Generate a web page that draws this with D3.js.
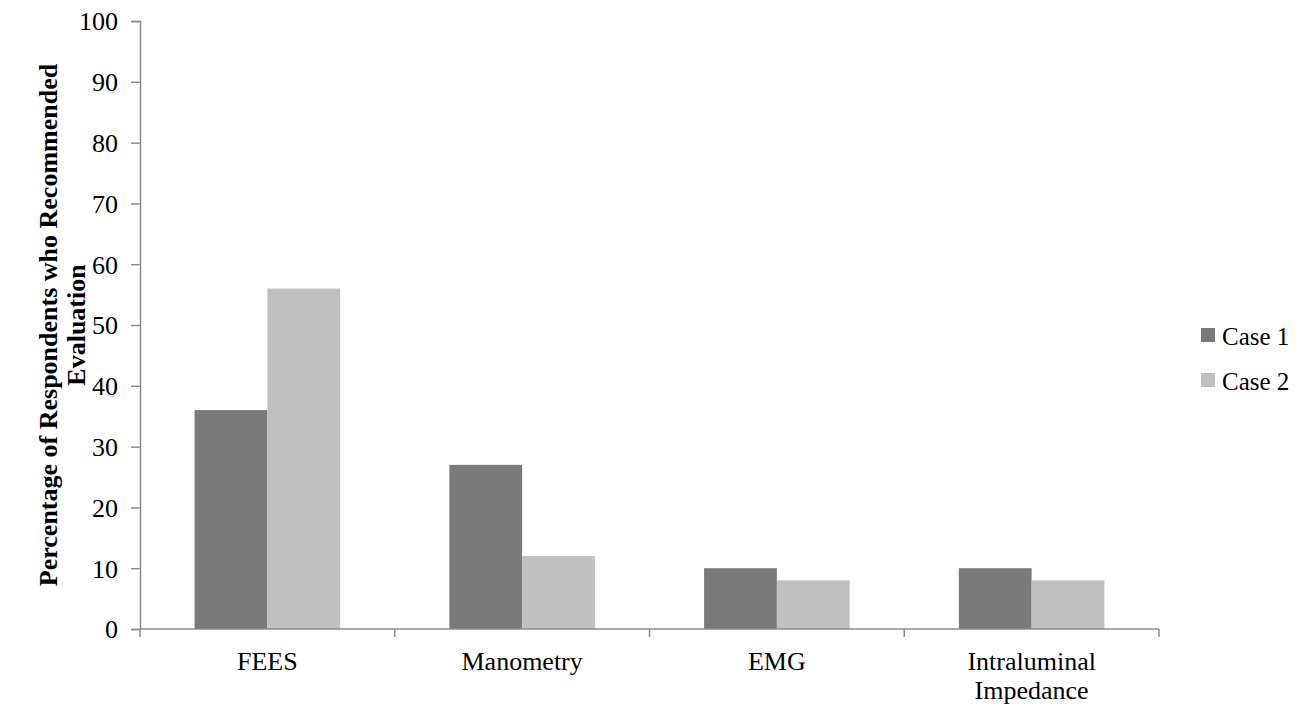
<!DOCTYPE html>
<html><head><meta charset="utf-8">
<script src="https://cdn.jsdelivr.net/npm/d3@7"></script>
<style>body{margin:0;background:#fff}svg{display:block}text{font-family:"Liberation Serif","Times New Roman",serif;fill:#000}</style>
</head><body>
<svg id="c" width="1310" height="709"></svg>
<script>
const categories = [["FEES"], ["Manometry"], ["EMG"], ["Intraluminal","Impedance"]];
const seriesNames = ["Case 1", "Case 2"];
const case1 = [36, 27, 10, 10];
const case2 = [56, 12, 8, 8];
const yTicks = [0,10,20,30,40,50,60,70,80,90,100];
const colors = ["#7a7a7a", "#c0c0c0"];

const svg = d3.select("#c");
const m = {left:140, right:1159, top:21, bottom:629};
const x = d3.scaleBand().domain(d3.range(categories.length)).range([m.left, m.right]).paddingInner(0).paddingOuter(0);
const x1 = d3.scaleBand().domain(d3.range(seriesNames.length)).range([0, x.bandwidth()]).paddingOuter(0.75).paddingInner(0);
const y = d3.scaleLinear().domain([0,100]).range([m.bottom, m.top]);
const series = [case1, case2];
const axisColor = "#8c8c8c";
const fs = "26px";

// bars
series.forEach((vals, si) => {
  svg.append("g").selectAll("rect").data(vals).join("rect")
    .attr("x", (d,i) => x(i) + x1(si))
    .attr("width", x1.bandwidth())
    .attr("y", d => y(d))
    .attr("height", d => y(0) - y(d))
    .attr("fill", colors[si]);
});

// y axis
const ya = svg.append("g").attr("transform", `translate(${m.left},0)`)
  .call(d3.axisLeft(y).tickValues(yTicks).tickSize(9).tickPadding(13));
ya.select(".domain").attr("stroke", axisColor).attr("stroke-width", 1.5);
ya.selectAll(".tick line").attr("stroke", axisColor).attr("stroke-width", 1.5);
ya.selectAll(".tick text").style("font-size",fs).attr("fill","#000").attr("dy","0.34em");

// x axis
const xa = svg.append("g").attr("transform", `translate(0,${m.bottom})`);
xa.append("line").attr("x1", m.left).attr("x2", m.right).attr("y1",0).attr("y2",0).attr("stroke", axisColor).attr("stroke-width",1.5);
const bounds = d3.range(categories.length+1).map(i => i < categories.length ? x(i) : m.right);
xa.selectAll("line.tk").data(bounds).join("line").attr("class","tk")
  .attr("x1", d=>d).attr("x2", d=>d).attr("y1",0).attr("y2",8).attr("stroke", axisColor).attr("stroke-width",1.5);
categories.forEach((lines, i) => {
  const t = xa.append("text").attr("text-anchor","middle").style("font-size",fs)
    .attr("transform", `translate(${x(i)+x.bandwidth()/2},${41})`);
  lines.forEach((l, j) => t.append("tspan").attr("x",0).attr("dy", j===0?0:29).text(l));
});

// y title
const yt = svg.append("text").attr("text-anchor","middle").style("font-size",fs).style("font-weight","bold")
  .attr("transform", "translate(57,325) rotate(-90)");
yt.append("tspan").attr("x",0).attr("dy",0).text("Percentage of Respondents who Recommended");
yt.append("tspan").attr("x",0).attr("dy",28).text("Evaluation");

// legend
const lg = svg.append("g").attr("transform","translate(1201,328)");
seriesNames.forEach((n, i) => {
  const g = lg.append("g").attr("transform", `translate(0,${i*45})`);
  g.append("rect").attr("width",14).attr("height",14).attr("fill",colors[i]);
  g.append("text").attr("x",21).attr("y",17).style("font-size","25px").text(n);
});
</script>
</body></html>
